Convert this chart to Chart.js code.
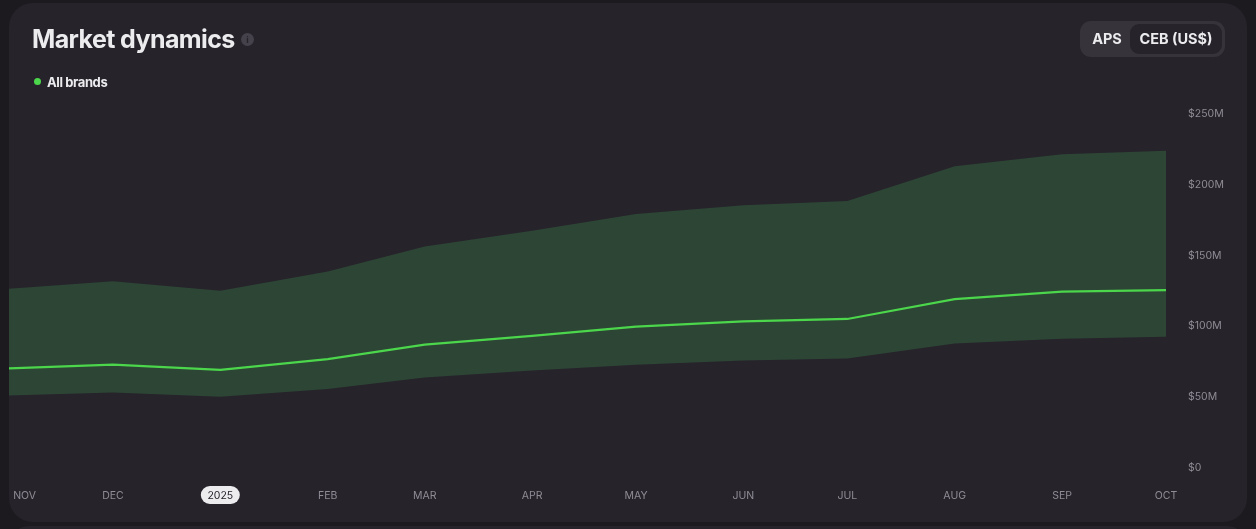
<!DOCTYPE html>
<html>
<head>
<meta charset="utf-8">
<script src="https://cdn.jsdelivr.net/npm/chart.js@4"></script>
<style>
  html, body { margin: 0; height: 100%; background: #1d1a1f; overflow: hidden; font-family: Inter, sans-serif; }
  #card { position: absolute; left: 9px; top: 3px; width: 1238px; height: 519px; background: #26232b; border-radius: 24px; }
  #next { position: absolute; left: 9px; top: 526px; width: 1238px; height: 40px; background: #26232b; border-radius: 24px; }
  #wrap { position: absolute; left: 0; top: 0; width: 1256px; height: 529px; }
  #title { position: absolute; left: 32px; top: 23px; font-size: 25px; line-height: 32px; font-weight: 700; color: #ececee; letter-spacing: -0.6px; }
  #info { position: absolute; left: 241px; top: 33px; width: 13px; height: 13px; border-radius: 50%; background: #45424c; color: #26232b; font-size: 9px; line-height: 13px; font-weight: 700; text-align: center; }
  #legend { position: absolute; left: 34px; top: 74px; height: 16px; color: #ececee; font-size: 13px; line-height: 16px; font-weight: 700; letter-spacing: -0.4px; }
  #legend i { position: absolute; left: 0; top: 4px; width: 7px; height: 7px; border-radius: 50%; background: #4bd64b; }
  #legend span { margin-left: 13px; }
  #switch { position: absolute; left: 1080px; top: 21px; width: 145px; height: 36px; background: #36333b; border-radius: 11px; }
  #switch div { position: absolute; top: 3px; height: 30px; line-height: 30px; font-size: 14.5px; font-weight: 700; color: #ececee; text-align: center; }
  #aps { left: 0; width: 54px; }
  #ceb { left: 50px; width: 92px; background: #26232b; border-radius: 9px; }
</style>
</head>
<body>
<div id="card"></div>
<div id="next"></div>
<div id="wrap"><canvas id="chart" width="1256" height="529"></canvas></div>
<div id="title">Market dynamics</div>
<div id="info">i</div>
<div id="legend"><i></i><span>All brands</span></div>
<div id="switch"><div id="aps">APS</div><div id="ceb">CEB (US$)</div></div>
<script>
// days since 1 Nov 2024, the months are not evenly spaced in the original
const days = [0, 30, 61, 92, 120, 151, 181, 212, 242, 273, 304, 334];
const monthLabels = ['NOV', 'DEC', '2025', 'FEB', 'MAR', 'APR', 'MAY', 'JUN', 'JUL', 'AUG', 'SEP', 'OCT'];
// first label sits a bit inside the card
const labelDays = [4.5, 30, 61, 92, 120, 151, 181, 212, 242, 273, 304, 334];
const yTicks = [0, 50, 100, 150, 200, 250];
const allBrands = [70, 72.7, 69, 76.6, 86.9, 93, 99.6, 103.3, 105, 119, 124.3, 125.4];
const upperBand = [126.4, 131.6, 125, 138.6, 156.2, 167.4, 179.2, 185.4, 188.4, 213, 221.6, 224];
const lowerBand = [50.8, 53, 50, 55.4, 63.6, 68.5, 72.7, 75.6, 77, 87.6, 91, 92.5];

const toPoints = values => values.map((v, i) => ({ x: days[i], y: v }));

// white pill behind the year label
const yearPill = {
  id: 'yearPill',
  beforeDraw(chart) {
    const x = chart.scales.x.getPixelForValue(labelDays[2]);
    const ctx = chart.ctx;
    ctx.save();
    ctx.fillStyle = '#ececee';
    ctx.beginPath();
    ctx.roundRect(x - 19.5, 486, 39, 18, 9);
    ctx.fill();
    ctx.restore();
  }
};

new Chart(document.getElementById('chart'), {
  type: 'line',
  plugins: [yearPill],
  data: {
    // first dataset is painted last, the line has to stay above the band
    datasets: [
      { label: 'All brands', data: toPoints(allBrands), borderColor: '#4bd64b', borderWidth: 2.2, pointRadius: 0, fill: false },
      { label: 'Lower', data: toPoints(lowerBand), borderWidth: 0, pointRadius: 0, fill: false },
      { label: 'Upper', data: toPoints(upperBand), borderWidth: 0, pointRadius: 0, fill: '-1', backgroundColor: '#2d4535' }
    ]
  },
  options: {
    responsive: false,
    animation: false,
    layout: { padding: { left: 9, top: 114, right: 0, bottom: 13 } },
    plugins: { legend: { display: false }, tooltip: { enabled: false } },
    scales: {
      x: {
        type: 'linear',
        min: 0,
        max: 334,
        grid: { display: false },
        border: { display: false },
        afterBuildTicks: axis => { axis.ticks = labelDays.map(v => ({ value: v })); },
        afterFit: axis => { axis.paddingLeft = 0; },
        ticks: {
          autoSkip: false,
          maxRotation: 0,
          padding: 14,
          font: { family: 'Inter', size: 10.5 },
          color: ctx => (ctx.index === 2 ? '#26232b' : '#8f8c95'),
          callback: (v, i) => monthLabels[i]
        }
      },
      y: {
        position: 'right',
        min: 0,
        max: 250,
        grid: { display: false },
        border: { display: false },
        afterBuildTicks: axis => { axis.ticks = yTicks.map(v => ({ value: v })); },
        afterFit: axis => { axis.width = 90; },
        ticks: {
          crossAlign: 'near',
          padding: 14,
          font: { family: 'Inter', size: 10.5 },
          color: '#8f8c95',
          callback: v => '$' + v + (v ? 'M' : '')
        }
      }
    }
  }
});
</script>
</body>
</html>
